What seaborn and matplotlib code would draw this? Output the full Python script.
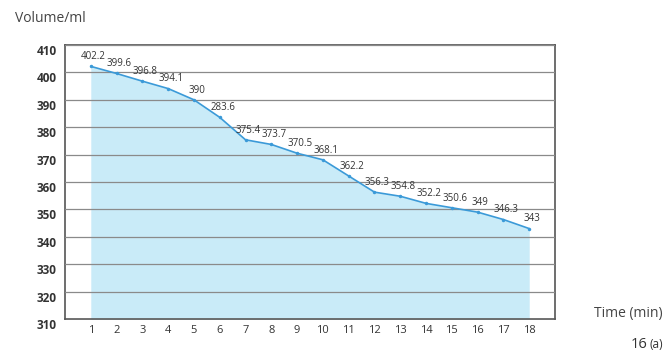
import matplotlib
matplotlib.use("Agg")
import matplotlib.pyplot as plt
import seaborn as sns
import pandas as pd

time_min = list(range(1, 19))
volume = [402.2, 399.6, 396.8, 394.1, 390, 383.6, 375.4, 373.7, 370.5, 368.1,
          362.2, 356.3, 354.8, 352.2, 350.6, 349, 346.3, 343]
point_labels = ["402.2", "399.6", "396.8", "394.1", "390", "283.6", "375.4", "373.7",
                "370.5", "368.1", "362.2", "356.3", "354.8", "352.2", "350.6", "349",
                "346.3", "343"]
y_ticks = list(range(310, 411, 10))

sns.set_theme(style="white")
plt.rcParams['font.family'] = ['Open Sans', 'DejaVu Sans']

df = pd.DataFrame({"time": time_min, "volume": volume})

fig = plt.figure(figsize=(6.67, 3.54), dpi=100)
ax = fig.add_axes([65/667, 1-319/354, (555-65)/667, (319-45)/354])

line_col = "#3b9ad8"
ax.fill_between(df["time"], df["volume"], 310, color="#c9ebf8", zorder=1, linewidth=0)
sns.lineplot(data=df, x="time", y="volume", ax=ax, color=line_col, linewidth=1.2,
             marker="o", markersize=2.5, markeredgewidth=0, zorder=3)

for x, y, t in zip(time_min, volume, point_labels):
    ax.annotate(t, (x, y), xytext=(2, 3), textcoords="offset points",
                fontsize=7, color="#333333", ha="center", va="bottom", zorder=4)

ax.set_xlim(0, 19)
ax.set_ylim(310, 410)
ax.set_yticks(y_ticks)
ax.set_xticks(time_min)
ax.yaxis.grid(True, color="#8a8a8a", linewidth=0.9, zorder=2)
ax.set_axisbelow(False)
for s in ax.spines.values():
    s.set_color("#555555")
    s.set_linewidth(1.2)
ax.tick_params(axis="y", length=0, labelsize=8.5, labelcolor="#333333", pad=6)
ax.tick_params(axis="x", direction="in", length=3, color="#999999", width=0.8,
               labelsize=8, labelcolor="#333333", pad=4)
for lab in ax.get_yticklabels():
    lab.set_fontweight("bold")
    lab.set_va("top")
ax.set_xlabel("")
ax.set_ylabel("")

fig.text(15/667, 1-18/354, "Volume/ml", fontsize=10, color="#444444", ha="left", va="center")
fig.text(663/667, 1-313/354, "Time (min)", fontsize=10, color="#444444", ha="right", va="center")
fig.text(663/667, 1-345/354, "(a)", fontsize=8.5, color="#333333", ha="right", va="center")
fig.text(647/667, 1-345/354, "16", fontsize=10.5, color="#333333", ha="right", va="center")

fig.savefig("out.png", dpi=100)
